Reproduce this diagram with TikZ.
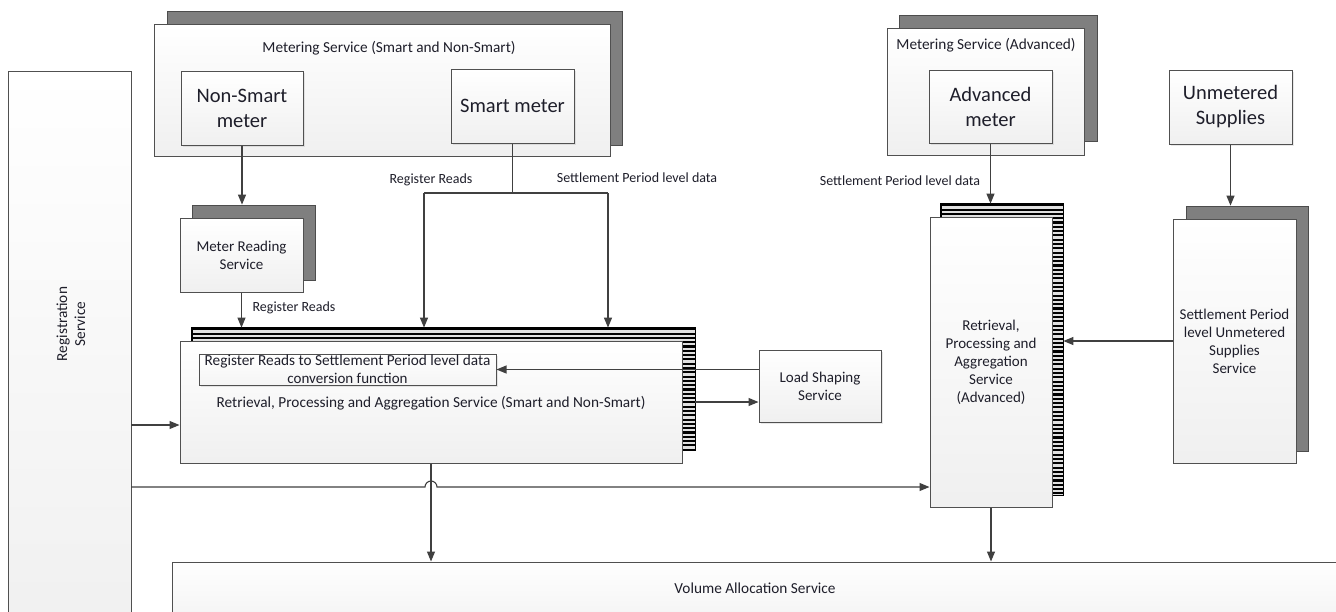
\documentclass[tikz,border=0pt]{standalone}
\usepackage{fontspec}
\setmainfont{Carlito}
\usetikzlibrary{arrows.meta,shadows,calc}
\definecolor{shd}{HTML}{7F7F7F}
\definecolor{edge}{HTML}{505050}
\definecolor{ink}{HTML}{1E1E2A}
\definecolor{wire}{HTML}{404040}
\tikzset{
  box/.style={draw=edge, line width=1pt, top color=white, bottom color=black!6, inner sep=0pt, align=center, text=ink, font=\fontsize{15}{18}\selectfont},
  smallshadow/.style={drop shadow={opacity=0.18, shadow xshift=2pt, shadow yshift=-2pt}},
  shadowbox/.style={draw=black!70, line width=0.8pt, fill=shd, inner sep=0pt},
  stripebox/.style={draw=black, line width=0.8pt, fill=black!12, inner sep=0pt},
  big/.style={font=\fontsize{20.5}{25}\selectfont},
  lbl/.style={text=ink, font=\fontsize{14}{17}\selectfont, inner sep=0pt},
  ttl/.style={text=ink, font=\fontsize{15.3}{18}\selectfont, inner sep=0pt, align=center},
  arr/.style={draw=wire, line width=1.1pt, -{Triangle[length=10pt,width=8pt]}},
  wireline/.style={draw=wire, line width=1.1pt}
}
\newcommand{\stripesin}[3]{% node name, top y, bottom y
  \begin{scope}
    \clip (#1.south west) rectangle (#1.north east);
    \foreach \k in {0,...,80}{
      \pgfmathsetmacro{\yy}{#2-1.3-\k*4.3}
      \pgfmathparse{\yy>#3 ? 1 : 0}
      \ifnum\pgfmathresult=1
        \draw[black, line width=2.1pt] (#1.west |- 0,\yy) -- (#1.east |- 0,\yy);
      \fi
    }
  \end{scope}
  \draw[black, line width=0.8pt] (#1.south west) rectangle (#1.north east);
}
\begin{document}
\begin{tikzpicture}[x=1pt,y=1pt]
\useasboundingbox (0,0) rectangle (1336,-611);
\clip (0,0) rectangle (1336,-611);
\fill[white] (0,0) rectangle (1336,-611);

% ---------- Metering Service (Smart and Non-Smart)
\node[shadowbox, minimum width=455pt, minimum height=134pt] (mss) at (394.5,-78) {};
\node[box, minimum width=456pt, minimum height=132pt] (ms) at (382,-90) {};
\node[ttl] (mst) at (389,-48) {Metering Service (Smart and Non-Smart)};
\node[box, big, smallshadow, minimum width=122pt, minimum height=74pt] (nsm) at (242,-108) {Non-Smart\\meter};
\node[box, big, smallshadow, minimum width=123pt, minimum height=74pt] (sm) at (512.5,-106) {Smart meter};

% ---------- Metering Service (Advanced)
\node[shadowbox, minimum width=198pt, minimum height=126pt] (msas) at (998,-78) {};
\node[box, minimum width=197pt, minimum height=127pt] (msa) at (985.5,-91.5) {};
\node[ttl] (msat) at (986,-45) {Metering Service (Advanced)};
\node[box, big, smallshadow, minimum width=123pt, minimum height=73pt] (am) at (990.5,-106.5) {Advanced\\meter};

% ---------- Unmetered supplies
\node[box, big, smallshadow, minimum width=123pt, minimum height=74pt] (us) at (1230.5,-107) {Unmetered\\Supplies};

% ---------- Registration Service
\node[box, minimum width=123pt, minimum height=579pt] (reg) at (69.5,-360.5) {};
\node[ttl, rotate=90] (regt) at (71,-324) {Registration\\Service};

% ---------- Meter Reading Service
\node[shadowbox, minimum width=123pt, minimum height=75pt] (mrss) at (253.5,-242.5) {};
\node[box, minimum width=123pt, minimum height=74pt] (mrs) at (241.5,-255) {Meter Reading\\Service};

% ---------- RPA (Smart and Non-Smart)
\node[stripebox, minimum width=503pt, minimum height=122pt] (rpas) at (443.5,-389) {};
\stripesin{rpas}{-328}{-450}
\node[box, minimum width=502pt, minimum height=122pt] (rpa) at (431,-402) {};
\node[box, smallshadow, minimum width=297pt, minimum height=31pt, bottom color=black!4] (conv) at (347.5,-369.5) {\fontsize{15.3}{19}\selectfont Register Reads to Settlement Period level data\\conversion function};
\node[ttl] (rpat) at (431,-403) {Retrieval, Processing and Aggregation Service (Smart and Non-Smart)};

% ---------- Load Shaping Service
\node[box, smallshadow, minimum width=122pt, minimum height=72pt] (ls) at (820,-386) {Load Shaping\\Service};

% ---------- RPA (Advanced)
\node[stripebox, minimum width=122pt, minimum height=291pt] (rpaas) at (1002,-349.5) {};
\stripesin{rpaas}{-204}{-495}
\node[box, minimum width=122pt, minimum height=290pt] (rpaa) at (991,-362) {Retrieval,\\Processing and\\Aggregation\\Service\\(Advanced)};

% ---------- Settlement Period level Unmetered Supplies Service
\node[shadowbox, minimum width=122pt, minimum height=245pt] (spus) at (1247,-328.5) {};
\node[box, minimum width=123pt, minimum height=244pt] (spu) at (1234.5,-341) {Settlement Period\\level Unmetered\\Supplies\\Service};

% ---------- Volume Allocation Service
\node[box, minimum width=1174pt, minimum height=78pt] (vas) at (759,-601) {};
\node[ttl] (vast) at (755,-588) {Volume Allocation Service};

% ---------- connectors
\draw[arr] (nsm.south) -- (nsm.south |- mrss.north);
\coordinate (jl) at (424,-193);
\coordinate (jr) at (608,-193);
\draw[wireline] (sm.south) -- (sm.south |- jl);
\draw[wireline] (jl) -- (jr);
\draw[arr] (jl) -- (jl |- rpas.north);
\draw[arr] (jr) -- (jr |- rpas.north);
\node[lbl] (l1) at (431,-180) {Register Reads};
\node[lbl] (l2) at (637,-178) {Settlement Period level data};

\draw[arr] (mrs.south) -- (mrs.south |- rpas.north);
\node[lbl] (l3) at (294,-308) {Register Reads};

\draw[arr] (ls.west |- conv.east) -- (conv.east);
\draw[arr] (rpa.east -| rpas.east) -- (rpa.east -| ls.west);

\coordinate (r1) at (131,-425);
\draw[arr] (r1) -- (r1 -| rpa.west);

\coordinate (r2) at (131,-487);
\coordinate (jump) at (425,-487);
\draw[arr] (r2) -- (jump) arc[start angle=180, end angle=0, radius=6pt] -- (jump -| rpaa.west);

\draw[arr] (rpa.south) -- (rpa.south |- vas.north);

\draw[arr] (am.south) -- (am.south |- rpaas.north);
\node[lbl] (l4) at (900,-181) {Settlement Period level data};

\draw[arr] (us.south) -- (us.south |- spus.north);
\draw[arr] (spu.west) -- (spu.west -| rpaas.east);
\draw[arr] (rpaa.south) -- (rpaa.south |- vas.north);
\end{tikzpicture}
\end{document}
